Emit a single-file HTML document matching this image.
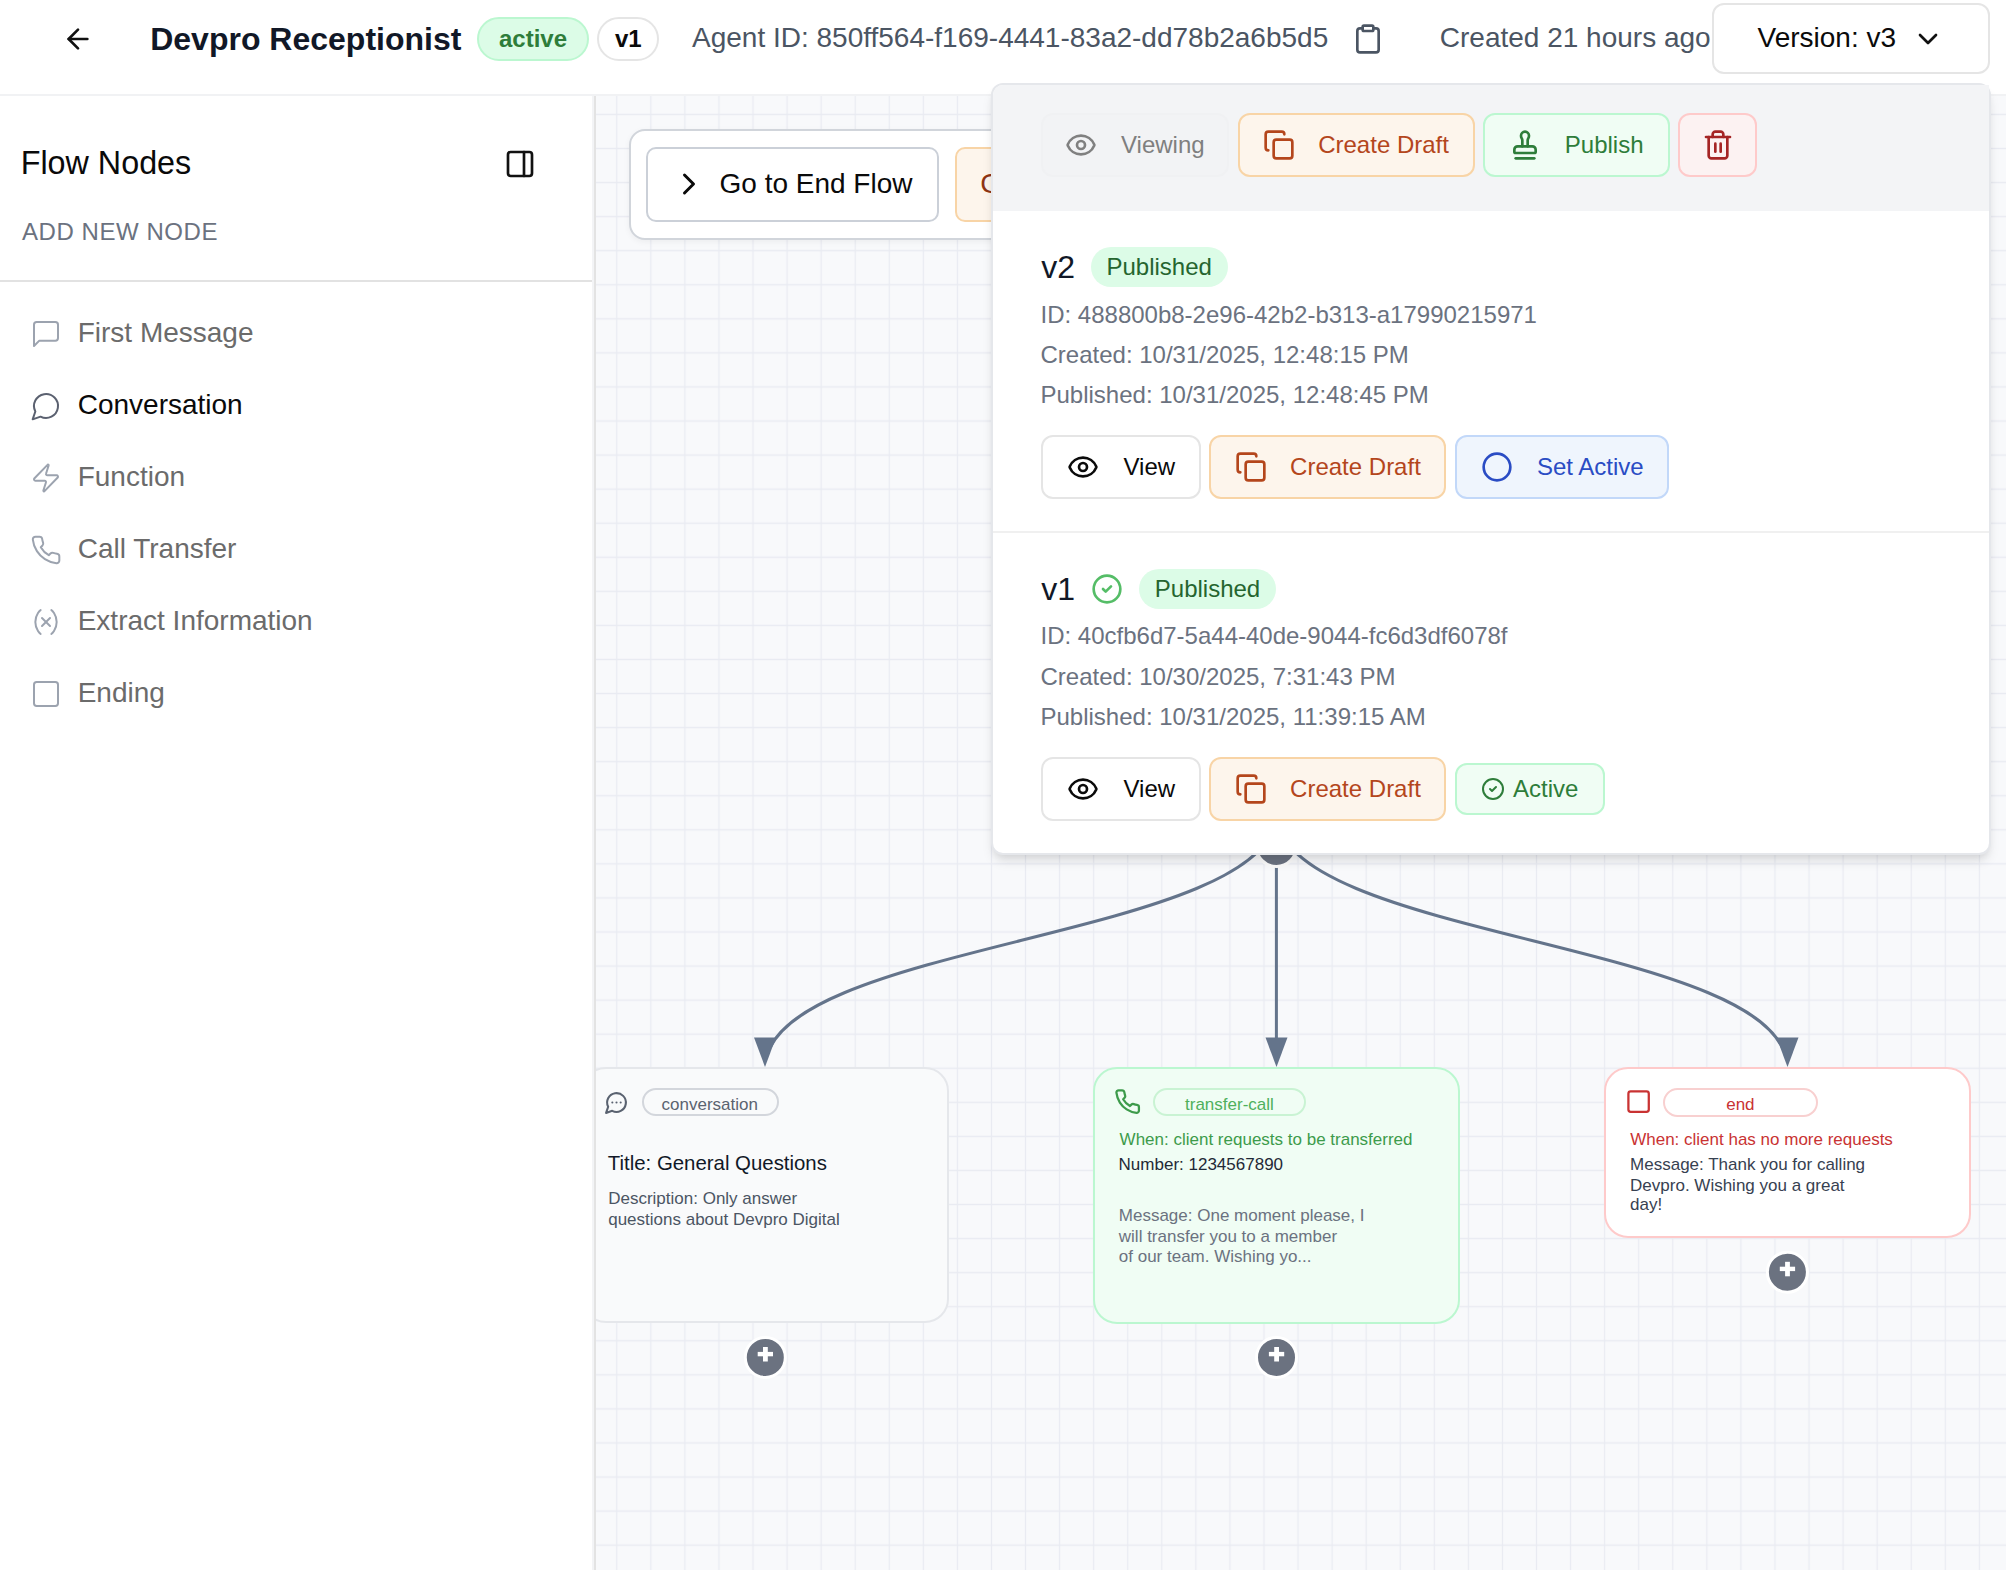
<!DOCTYPE html>
<html><head><meta charset="utf-8">
<style>
*{box-sizing:border-box;margin:0;padding:0}
html,body{width:2006px;height:1570px;overflow:hidden;background:#fff}
body{font-family:"Liberation Sans",sans-serif;position:relative}
.a{position:absolute}
.t{position:absolute;line-height:1;white-space:nowrap;top:calc(var(--b) - 0.8467em)}
svg.i{position:absolute;fill:none;stroke:currentColor;stroke-linecap:round;stroke-linejoin:round;overflow:visible}
.btn{position:absolute;height:64px;border:2px solid;border-radius:12px}
</style></head><body>

<!-- HEADER -->
<div class="a" style="left:0;top:0;width:2006px;height:94px;background:#fff"></div>
<div class="a" style="left:0;top:94px;width:2006px;height:2px;background:#f1f2f4"></div>
<svg class="i" style="left:62px;top:23px;width:32px;height:32px;color:#111;stroke-width:2" viewBox="0 0 24 24"><path d="m12 19-7-7 7-7"/><path d="M19 12H5"/></svg>
<div class="t" style="left:150.2px;--b:50px;font-size:32px;font-weight:700;color:#111827">Devpro Receptionist</div>
<div class="a" style="left:477px;top:17px;width:112px;height:44px;border:2px solid #bbf7d0;background:#dcfce7;border-radius:22px"></div>
<div class="t" style="left:499px;--b:47.1px;font-size:24px;font-weight:700;color:#2e7d3a">active</div>
<div class="a" style="left:597px;top:17px;width:62px;height:44px;border:2px solid #e5e5e5;background:#fff;border-radius:22px"></div>
<div class="t" style="left:615px;--b:47.1px;font-size:24px;font-weight:700;color:#0a0a0a">v1</div>
<div class="t" style="left:692px;--b:47.8px;font-size:28px;color:#4b5563">Agent ID: 850ff564-f169-4441-83a2-dd78b2a6b5d5</div>
<svg class="i" style="left:1352px;top:22.6px;width:32px;height:32px;color:#4b5563;stroke-width:2" viewBox="0 0 24 24"><rect width="8" height="4" x="8" y="2" rx="1" ry="1"/><path d="M16 4h2a2 2 0 0 1 2 2v14a2 2 0 0 1-2 2H6a2 2 0 0 1-2-2V6a2 2 0 0 1 2-2h2"/></svg>
<div class="t" style="left:1439.8px;--b:47.8px;font-size:28px;color:#4b5563">Created 21 hours ago</div>
<div class="a" style="left:1712px;top:3px;width:278px;height:71px;border:2px solid #e5e5e5;border-radius:12px;background:#fff"></div>
<div class="t" style="left:1757.5px;--b:47.3px;font-size:28px;color:#0a0a0a">Version: v3</div>
<svg class="i" style="left:1912px;top:22.8px;width:32px;height:32px;color:#111;stroke-width:2" viewBox="0 0 24 24"><path d="m6 9 6 6 6-6"/></svg>

<!-- SIDEBAR -->
<div class="a" style="left:0;top:96px;width:592px;height:1474px;background:#fff"></div>
<div class="a" style="left:592px;top:96px;width:2px;height:1474px;background:#f3f4f6"></div>
<div class="a" style="left:594px;top:96px;width:2px;height:1474px;background:#e3e3e3"></div>
<div class="t" style="left:20.7px;--b:174.5px;font-size:32.3px;color:#0a0a0a">Flow Nodes</div>
<svg class="i" style="left:504px;top:148px;width:32px;height:32px;color:#111;stroke-width:2" viewBox="0 0 24 24"><rect width="18" height="18" x="3" y="3" rx="2"/><path d="M15 3v18"/></svg>
<div class="t" style="left:22px;--b:240px;font-size:24px;letter-spacing:0.55px;color:#6b7280">ADD NEW NODE</div>
<div class="a" style="left:0;top:280px;width:592px;height:2px;background:#e2e2e2"></div>

<svg class="i" style="left:30px;top:318px;width:32px;height:32px;color:#9ca3af;stroke-width:1.5" viewBox="0 0 24 24"><path d="M21 15a2 2 0 0 1-2 2H7l-4 4V5a2 2 0 0 1 2-2h14a2 2 0 0 1 2 2z"/></svg>
<div class="t" style="left:77.7px;--b:343px;font-size:28px;color:#6b6b6b">First Message</div>
<svg class="i" style="left:30px;top:390px;width:32px;height:32px;color:#5b6170;stroke-width:1.5" viewBox="0 0 24 24"><path d="M7.9 20A9 9 0 1 0 4 16.1L2 22Z"/></svg>
<div class="t" style="left:77.7px;--b:415px;font-size:28px;color:#0a0a0a">Conversation</div>
<svg class="i" style="left:30px;top:462px;width:32px;height:32px;color:#9ca3af;stroke-width:1.5" viewBox="0 0 24 24"><path d="M4 14a1 1 0 0 1-.78-1.63l9.9-10.2a.5.5 0 0 1 .86.46l-1.92 6.02A1 1 0 0 0 13 10h7a1 1 0 0 1 .78 1.63l-9.9 10.2a.5.5 0 0 1-.86-.46l1.92-6.02A1 1 0 0 0 11 14z"/></svg>
<div class="t" style="left:77.7px;--b:487px;font-size:28px;color:#6b6b6b">Function</div>
<svg class="i" style="left:30px;top:534px;width:32px;height:32px;color:#9ca3af;stroke-width:1.5" viewBox="0 0 24 24"><path d="M22 16.92v3a2 2 0 0 1-2.18 2 19.79 19.79 0 0 1-8.63-3.07 19.5 19.5 0 0 1-6-6 19.79 19.79 0 0 1-3.07-8.67A2 2 0 0 1 4.11 2h3a2 2 0 0 1 2 1.72 12.84 12.84 0 0 0 .7 2.81 2 2 0 0 1-.45 2.11L8.09 9.91a16 16 0 0 0 6 6l1.27-1.27a2 2 0 0 1 2.11-.45 12.84 12.84 0 0 0 2.81.7A2 2 0 0 1 22 16.92z"/></svg>
<div class="t" style="left:77.7px;--b:559px;font-size:28px;color:#6b6b6b">Call Transfer</div>
<svg class="i" style="left:30px;top:606px;width:32px;height:32px;color:#9ca3af;stroke-width:1.5" viewBox="0 0 24 24"><path d="M8 21s-4-3-4-9 4-9 4-9"/><path d="M16 3s4 3 4 9-4 9-4 9"/><line x1="15" x2="9" y1="9" y2="15"/><line x1="9" x2="15" y1="9" y2="15"/></svg>
<div class="t" style="left:77.7px;--b:631px;font-size:28px;color:#6b6b6b">Extract Information</div>
<svg class="i" style="left:30px;top:678px;width:32px;height:32px;color:#9ca3af;stroke-width:1.5" viewBox="0 0 24 24"><rect width="18" height="18" x="3" y="3" rx="2"/></svg>
<div class="t" style="left:77.7px;--b:703px;font-size:28px;color:#6b6b6b">Ending</div>

<!-- CANVAS -->
<div class="a" id="canvas" style="left:596px;top:96px;width:1410px;height:1474px;background:#f8f9fb;overflow:hidden">
<div class="a" style="left:-596px;top:-96px;width:2006px;height:1570px">
<svg class="a" style="left:0;top:0" width="2006" height="1570">
<defs><pattern id="grid" patternUnits="userSpaceOnUse" x="599.72" y="97.4" width="34.065" height="34.065">
<path d="M17.03 0V34.065M0 17.03H34.065" stroke="#e9ebf2" stroke-width="1.3" fill="none"/></pattern></defs>
<rect x="0" y="0" width="2006" height="1570" fill="url(#grid)"/>
</svg>

<!-- toolbar panel -->
<div class="a" style="left:628.5px;top:128.5px;width:600px;height:111px;border:2px solid #d1d5db;border-radius:16px;background:#fff;box-shadow:0 2px 6px rgba(0,0,0,.05)"></div>
<div class="a" style="left:646px;top:146.5px;width:292.5px;height:75px;border:2px solid #cbd0d8;border-radius:10px;background:#fff"></div>
<svg class="i" style="left:670.7px;top:166.3px;width:36px;height:36px;color:#0a0a0a;stroke-width:2" viewBox="0 0 24 24"><path d="m9 18 6-6-6-6"/></svg>
<div class="t" style="left:719.5px;--b:193.4px;font-size:28px;color:#0a0a0a">Go to End Flow</div>
<div class="a" style="left:955px;top:146.5px;width:260px;height:75px;border:2px solid #f8d4a6;border-radius:10px;background:#fdf5ec"></div>
<div class="t" style="left:980.3px;--b:193.4px;font-size:28px;color:#8f3413">Create Draft</div>

<!-- edges -->
<svg class="a" style="left:0;top:0;overflow:visible" width="2006" height="1570">
<defs><clipPath id="ec"><rect x="0" y="0" width="2006" height="1048"/></clipPath></defs>
<g fill="none" stroke="#64748b" stroke-width="3" clip-path="url(#ec)">
<path d="M1276.4 812.5 C1276.4 940.5 765 940.5 765 1068.5"/>
<path d="M1276.4 812.5 L1276.4 1068.5"/>
<path d="M1276.4 812.5 C1276.4 940.5 1787.5 940.5 1787.5 1068.5"/>
</g>
<g fill="#64748b">
<path d="M754 1037.5 L776 1037.5 L765 1067 Z"/>
<path d="M1265.5 1037.5 L1287.5 1037.5 L1276.5 1067 Z"/>
<path d="M1776.5 1037.5 L1798.5 1037.5 L1787.5 1067 Z"/>
</g>
<circle cx="1276.4" cy="846.5" r="20" fill="#6b7280" stroke="#fafafa" stroke-width="3"/>
</svg>

<!-- conversation node -->
<div class="a" style="left:582px;top:1067px;width:367px;height:256px;border:2px solid #e5e7eb;border-radius:24px;background:#f9fafb"></div>
<svg class="i" style="left:604.3px;top:1090px;width:25px;height:25px;color:#5a6270;stroke-width:2" viewBox="0 0 24 24"><path d="M7.9 20A9 9 0 1 0 4 16.1L2 22Z"/><path d="M8 12h.01"/><path d="M12 12h.01"/><path d="M16 12h.01"/></svg>
<div class="a" style="left:641.5px;top:1088px;width:137.5px;height:28px;border:2px solid #d3d6dc;border-radius:14px"></div>
<div class="t" style="left:661.6px;--b:1110.1px;font-size:17px;color:#5b6370">conversation</div>
<div class="t" style="left:607.8px;--b:1170.4px;font-size:20.4px;color:#111827">Title: General Questions</div>
<div class="t" style="left:608.2px;--b:1204.8px;font-size:17px;color:#4b5563">Description: Only answer</div>
<div class="t" style="left:608.2px;--b:1225.4px;font-size:17px;color:#4b5563">questions about Devpro Digital</div>

<!-- transfer node -->
<div class="a" style="left:1093px;top:1067px;width:367px;height:257px;border:2px solid #bbf7d0;border-radius:24px;background:#f0fdf4"></div>
<svg class="i" style="left:1114px;top:1087.6px;width:27.2px;height:27.2px;color:#3d9b4b;stroke-width:2" viewBox="0 0 24 24"><path d="M22 16.92v3a2 2 0 0 1-2.18 2 19.79 19.79 0 0 1-8.63-3.07 19.5 19.5 0 0 1-6-6 19.790 19.79 0 0 1-3.07-8.67A2 2 0 0 1 4.11 2h3a2 2 0 0 1 2 1.72 12.84 12.84 0 0 0 .7 2.81 2 2 0 0 1-.45 2.11L8.09 9.91a16 16 0 0 0 6 6l1.27-1.27a2 2 0 0 1 2.11-.45 12.84 12.84 0 0 0 2.81.7A2 2 0 0 1 22 16.92z"/></svg>
<div class="a" style="left:1153px;top:1088px;width:153.3px;height:28px;border:2px solid #c9f3d3;border-radius:14px"></div>
<div class="t" style="left:1185px;--b:1110.1px;font-size:17px;color:#4fb05c">transfer-call</div>
<div class="t" style="left:1119.6px;--b:1145.6px;font-size:17px;color:#3d9b4b">When: client requests to be transferred</div>
<div class="t" style="left:1118.6px;--b:1170.3px;font-size:17px;color:#1f2937">Number: 1234567890</div>
<div class="t" style="left:1118.8px;--b:1221.6px;font-size:17px;color:#6b7280">Message: One moment please, I</div>
<div class="t" style="left:1118.8px;--b:1242.3px;font-size:17px;color:#6b7280">will transfer you to a member</div>
<div class="t" style="left:1118.8px;--b:1262.4px;font-size:17px;color:#6b7280">of our team. Wishing yo...</div>

<!-- end node -->
<div class="a" style="left:1604px;top:1067px;width:367px;height:171px;border:2px solid #fecaca;border-radius:24px;background:#fff"></div>
<svg class="i" style="left:1624.6px;top:1088.1px;width:27.2px;height:27.2px;color:#c93333;stroke-width:2" viewBox="0 0 24 24"><rect width="18" height="18" x="3" y="3" rx="2"/></svg>
<div class="a" style="left:1663px;top:1087.5px;width:155px;height:29px;border:2px solid #f8d0d0;border-radius:14.5px"></div>
<div class="t" style="left:1726.2px;--b:1110.1px;font-size:17px;color:#c93333">end</div>
<div class="t" style="left:1630.2px;--b:1145px;font-size:17px;color:#c93333">When: client has no more requests</div>
<div class="t" style="left:1630.1px;--b:1169.9px;font-size:17px;color:#374151">Message: Thank you for calling</div>
<div class="t" style="left:1630.1px;--b:1191px;font-size:17px;color:#374151">Devpro. Wishing you a great</div>
<div class="t" style="left:1630.1px;--b:1210.7px;font-size:17px;color:#374151">day!</div>

<!-- plus buttons -->
<svg class="a" style="left:0;top:0;overflow:visible" width="2006" height="1570">
<g fill="#6b7280" stroke="#fff" stroke-width="3">
<circle cx="765.3" cy="1357.4" r="20"/>
<circle cx="1276.5" cy="1357.4" r="20"/>
<circle cx="1787.4" cy="1272.2" r="20"/>
</g>
<g fill="#fff">
<rect x="757.7" y="1351.9" width="15.3" height="4.4"/><rect x="763" y="1347" width="4.8" height="14.5"/>
<rect x="1268.9" y="1351.9" width="15.3" height="4.4"/><rect x="1274.2" y="1347" width="4.8" height="14.5"/>
<rect x="1779.8" y="1266.7" width="15.3" height="4.4"/><rect x="1785.1" y="1261.8" width="4.8" height="14.5"/>
</g>
</svg>
</div>
</div>

<!-- POPOVER -->
<div class="a" style="left:991px;top:83px;width:1000px;height:772px;border:2px solid #e5e7eb;border-radius:12px;background:#fff;box-shadow:0 8px 12px -2px rgba(0,0,0,.1),0 4px 8px -4px rgba(0,0,0,.1)"></div>
<div class="a" style="left:993px;top:85px;width:996px;height:126px;background:#f3f4f6;border-top-left-radius:10px"></div>

<div class="btn" style="left:1041px;top:113px;width:188px;border-color:#f0f1f3;background:#f2f3f5"></div>
<svg class="i" style="left:1065.1px;top:128.9px;width:32px;height:32px;color:#808080;stroke-width:2" viewBox="0 0 24 24"><path d="M2.062 12.348a1 1 0 0 1 0-.696 10.75 10.75 0 0 1 19.876 0 1 1 0 0 1 0 .696 10.75 10.75 0 0 1-19.876 0"/><circle cx="12" cy="12" r="3"/></svg>
<div class="t" style="left:1121px;--b:153.2px;font-size:24px;color:#7f7f7f">Viewing</div>

<div class="btn" style="left:1237.5px;top:113px;width:237.5px;border-color:#f8d4a6;background:#fdf5ec"></div>
<svg class="i" style="left:1262.6px;top:128.5px;width:32px;height:32px;color:#b4461c;stroke-width:2" viewBox="0 0 24 24"><rect width="14" height="14" x="8" y="8" rx="2" ry="2"/><path d="M4 16c-1.1 0-2-.9-2-2V4c0-1.1.9-2 2-2h10c1.1 0 2 .9 2 2"/></svg>
<div class="t" style="left:1318.2px;--b:153.2px;font-size:24px;color:#b4461c">Create Draft</div>

<div class="btn" style="left:1483px;top:113px;width:187px;border-color:#bbf7d0;background:#f0fdf4"></div>
<svg class="i" style="left:1509px;top:128.8px;width:32px;height:32px;color:#2e7d3a;stroke-width:2" viewBox="0 0 24 24"><path d="M5 22h14"/><path d="M19.27 13.73A2.5 2.5 0 0 0 17.5 13h-11A2.5 2.5 0 0 0 4 15.5V17a1 1 0 0 0 1 1h14a1 1 0 0 0 1-1v-1.5c0-.66-.26-1.3-.73-1.77Z"/><path d="M14 13V8.5C14 7 15 7 15 5a3 3 0 0 0-6 0c0 2 1 2 1 3.5V13"/></svg>
<div class="t" style="left:1564.8px;--b:153.2px;font-size:24px;color:#2e7d3a">Publish</div>

<div class="btn" style="left:1678.3px;top:113px;width:79px;border-color:#fecaca;background:#fcf2f2"></div>
<svg class="i" style="left:1701.9px;top:128.75px;width:32px;height:32px;color:#a52525;stroke-width:2" viewBox="0 0 24 24"><path d="M3 6h18"/><path d="M19 6v14c0 1-1 2-2 2H7c-1 0-2-1-2-2V6"/><path d="M8 6V4c0-1 1-2 2-2h4c1 0 2 1 2 2v2"/><line x1="10" x2="10" y1="11" y2="17"/><line x1="14" x2="14" y1="11" y2="17"/></svg>

<!-- v2 -->
<div class="t" style="left:1041.2px;--b:277.8px;font-size:32px;color:#111827">v2</div>
<div class="a" style="left:1091px;top:247px;width:137px;height:40px;background:#dcfce7;border-radius:20px"></div>
<div class="t" style="left:1106.5px;--b:275px;font-size:24px;color:#25652f">Published</div>
<div class="t" style="left:1040.5px;--b:323px;font-size:24px;color:#6b7280">ID: 488800b8-2e96-42b2-b313-a17990215971</div>
<div class="t" style="left:1040.5px;--b:363px;font-size:24px;color:#6b7280">Created: 10/31/2025, 12:48:15 PM</div>
<div class="t" style="left:1040.5px;--b:403.2px;font-size:24px;color:#6b7280">Published: 10/31/2025, 12:48:45 PM</div>

<div class="btn" style="left:1041px;top:435px;width:160px;border-color:#e5e5e5;background:#fff"></div>
<svg class="i" style="left:1066.8px;top:451px;width:32px;height:32px;color:#0a0a0a;stroke-width:2" viewBox="0 0 24 24"><path d="M2.062 12.348a1 1 0 0 1 0-.696 10.75 10.75 0 0 1 19.876 0 1 1 0 0 1 0 .696 10.75 10.75 0 0 1-19.876 0"/><circle cx="12" cy="12" r="3"/></svg>
<div class="t" style="left:1123.5px;--b:475px;font-size:24px;color:#0a0a0a">View</div>
<div class="btn" style="left:1209.4px;top:435px;width:237px;border-color:#f8d4a6;background:#fdf5ec"></div>
<svg class="i" style="left:1234.5px;top:451px;width:32px;height:32px;color:#b4461c;stroke-width:2" viewBox="0 0 24 24"><rect width="14" height="14" x="8" y="8" rx="2" ry="2"/><path d="M4 16c-1.1 0-2-.9-2-2V4c0-1.1.9-2 2-2h10c1.1 0 2 .9 2 2"/></svg>
<div class="t" style="left:1290.1px;--b:475px;font-size:24px;color:#b4461c">Create Draft</div>
<div class="btn" style="left:1455.3px;top:435px;width:214px;border-color:#c2d8f9;background:#eff5fd"></div>
<svg class="i" style="left:1481px;top:450.7px;width:32px;height:32px;color:#2a4cc4;stroke-width:2" viewBox="0 0 24 24"><circle cx="12" cy="12" r="10"/></svg>
<div class="t" style="left:1536.9px;--b:475px;font-size:24px;color:#2a4cc4">Set Active</div>

<div class="a" style="left:993px;top:531px;width:996px;height:2px;background:#f0f0f0"></div>

<!-- v1 -->
<div class="t" style="left:1041.2px;--b:599.6px;font-size:32px;color:#111827">v1</div>
<svg class="i" style="left:1091px;top:573px;width:32px;height:32px;color:#55bd67;stroke-width:2" viewBox="0 0 24 24"><circle cx="12" cy="12" r="10"/><path d="m9 12 2 2 4-4"/></svg>
<div class="a" style="left:1139.3px;top:569px;width:137px;height:40px;background:#dcfce7;border-radius:20px"></div>
<div class="t" style="left:1154.8px;--b:597px;font-size:24px;color:#25652f">Published</div>
<div class="t" style="left:1040.5px;--b:644.7px;font-size:24px;color:#6b7280">ID: 40cfb6d7-5a44-40de-9044-fc6d3df6078f</div>
<div class="t" style="left:1040.5px;--b:685px;font-size:24px;color:#6b7280">Created: 10/30/2025, 7:31:43 PM</div>
<div class="t" style="left:1040.5px;--b:725px;font-size:24px;color:#6b7280">Published: 10/31/2025, 11:39:15 AM</div>

<div class="btn" style="left:1041px;top:757px;width:160px;border-color:#e5e5e5;background:#fff"></div>
<svg class="i" style="left:1066.8px;top:773px;width:32px;height:32px;color:#0a0a0a;stroke-width:2" viewBox="0 0 24 24"><path d="M2.062 12.348a1 1 0 0 1 0-.696 10.75 10.75 0 0 1 19.876 0 1 1 0 0 1 0 .696 10.75 10.75 0 0 1-19.876 0"/><circle cx="12" cy="12" r="3"/></svg>
<div class="t" style="left:1123.5px;--b:797px;font-size:24px;color:#0a0a0a">View</div>
<div class="btn" style="left:1209.4px;top:757px;width:237px;border-color:#f8d4a6;background:#fdf5ec"></div>
<svg class="i" style="left:1234.5px;top:773px;width:32px;height:32px;color:#b4461c;stroke-width:2" viewBox="0 0 24 24"><rect width="14" height="14" x="8" y="8" rx="2" ry="2"/><path d="M4 16c-1.1 0-2-.9-2-2V4c0-1.1.9-2 2-2h10c1.1 0 2 .9 2 2"/></svg>
<div class="t" style="left:1290.1px;--b:797px;font-size:24px;color:#b4461c">Create Draft</div>
<div class="a" style="left:1455.2px;top:763px;width:150px;height:52px;border:2px solid #bbf7d0;border-radius:12px;background:#f0fdf4"></div>
<svg class="i" style="left:1480.8px;top:776.8px;width:24px;height:24px;color:#2e7d3a;stroke-width:2" viewBox="0 0 24 24"><circle cx="12" cy="12" r="10"/><path d="m9 12 2 2 4-4"/></svg>
<div class="t" style="left:1513px;--b:797px;font-size:24px;color:#2e7d3a">Active</div>

</body></html>
